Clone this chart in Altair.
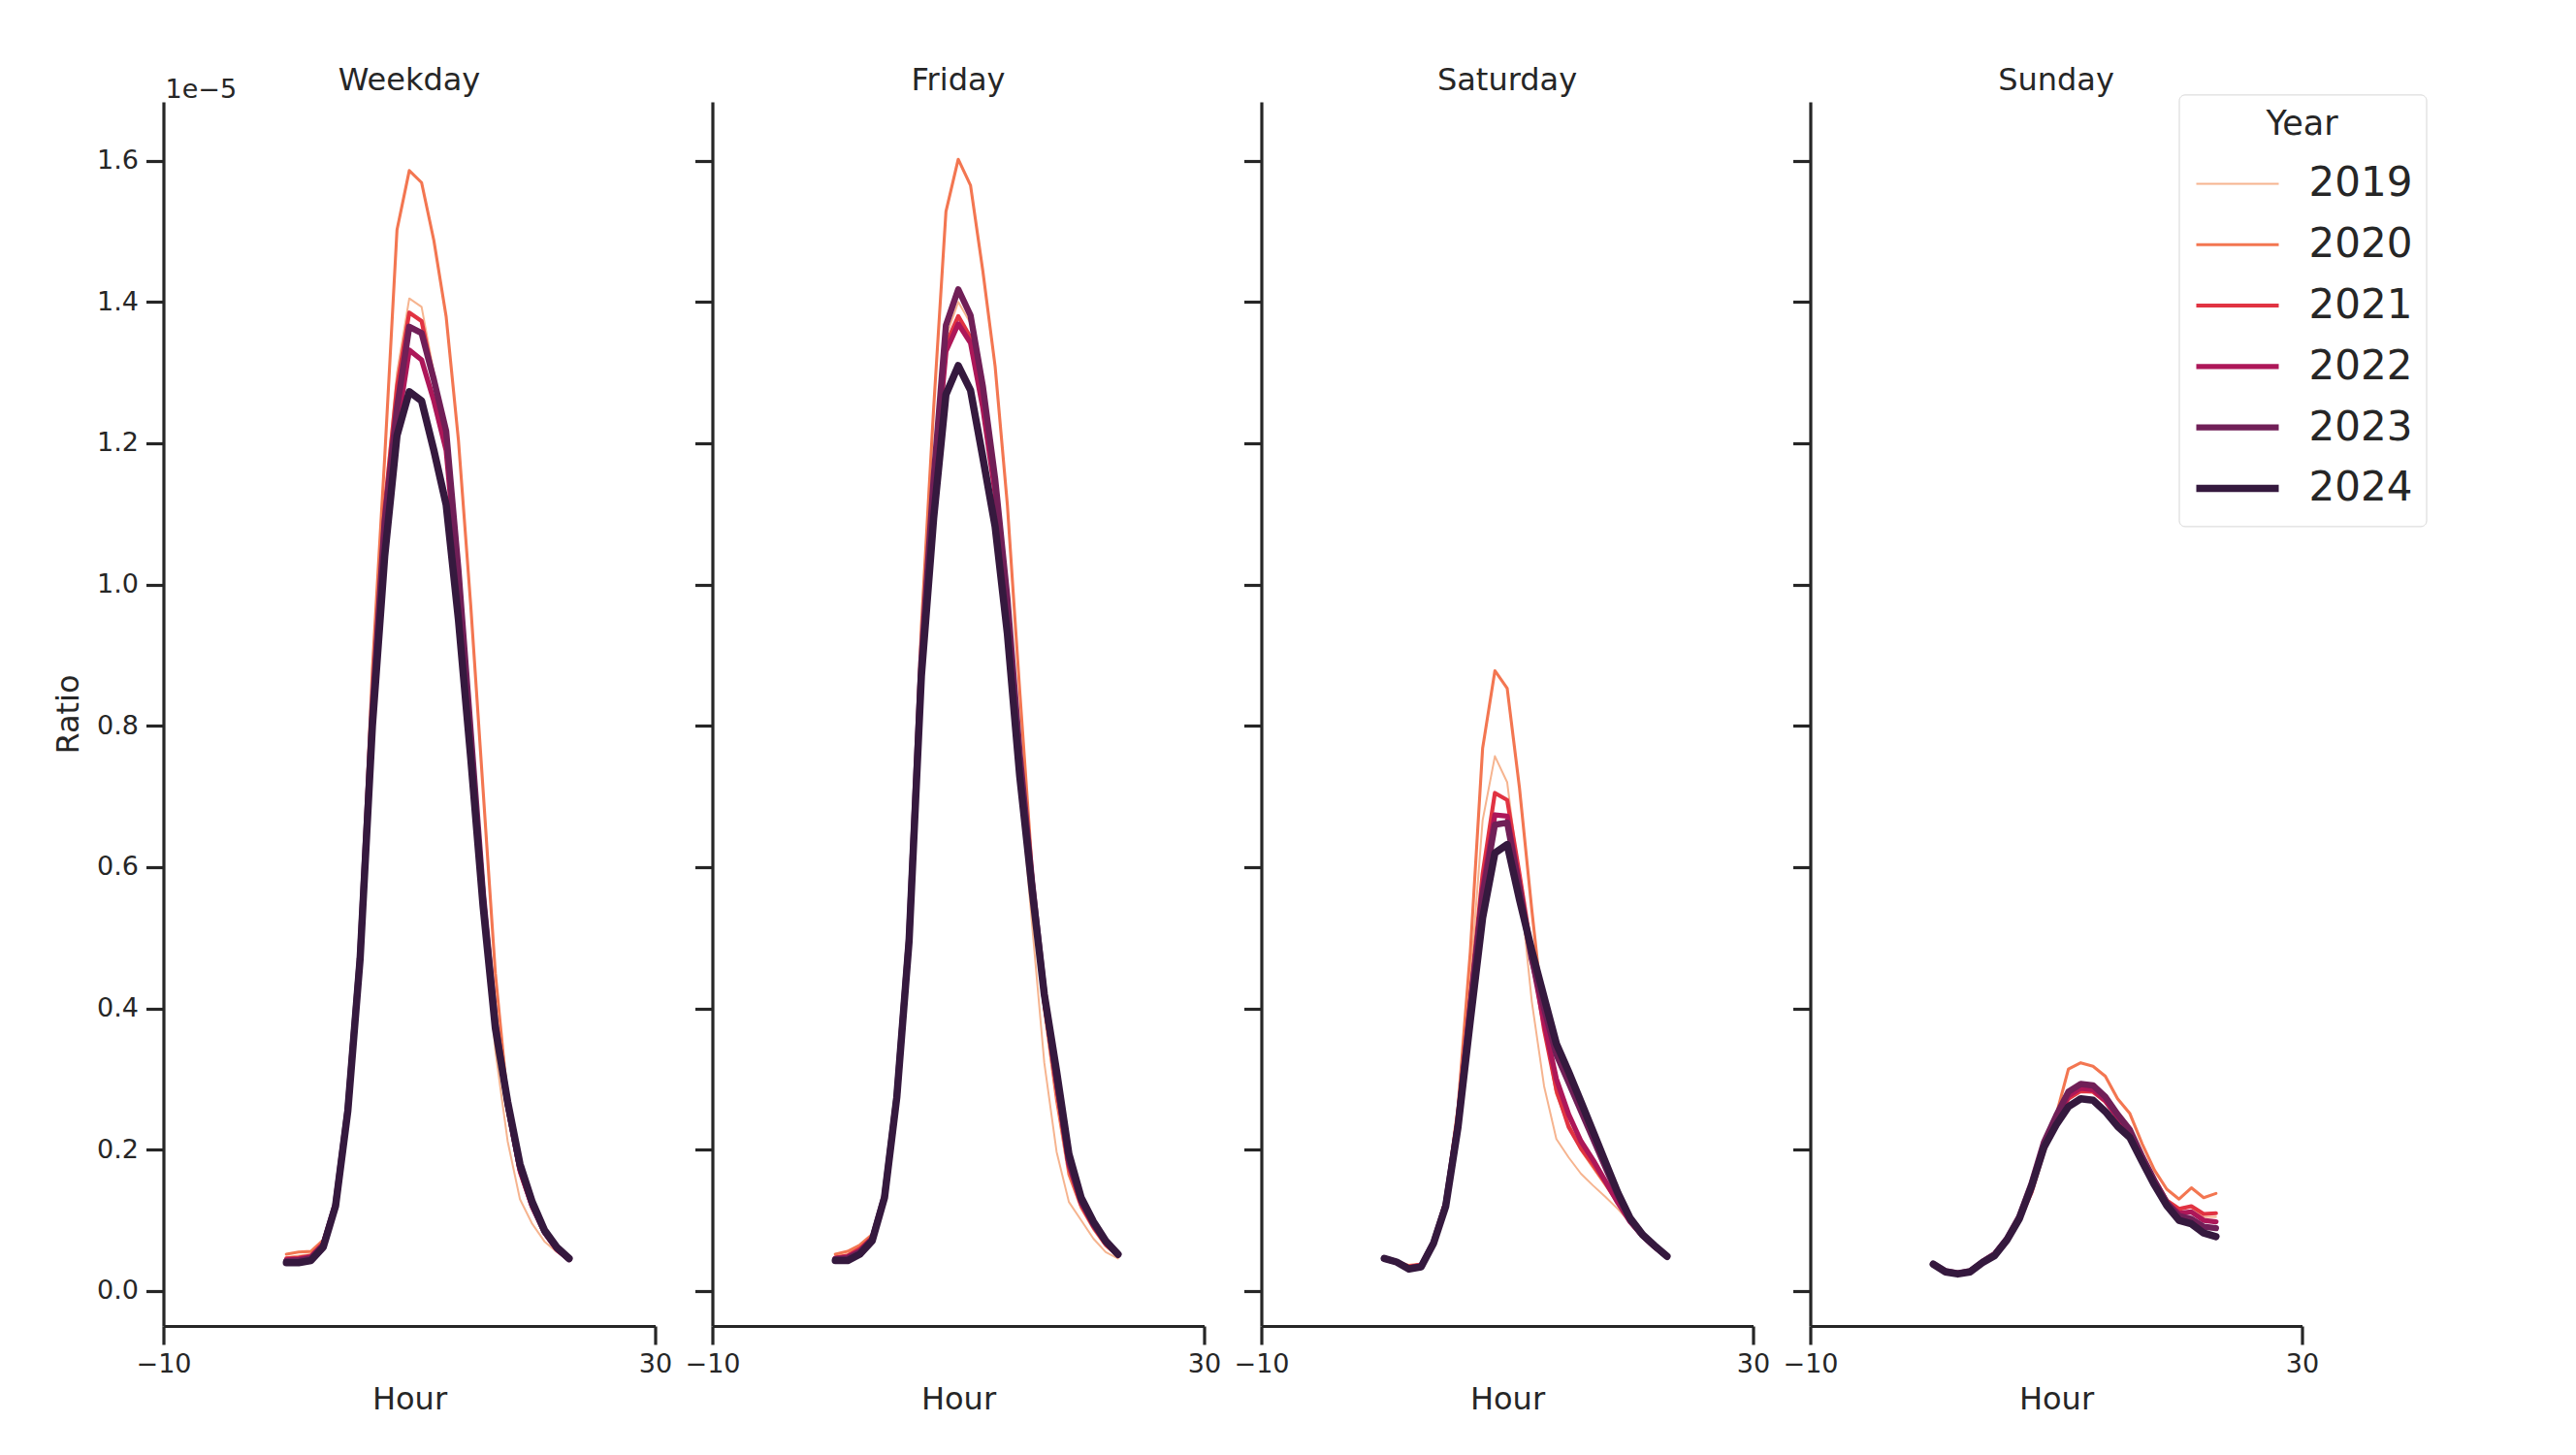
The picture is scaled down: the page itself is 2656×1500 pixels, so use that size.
import altair as alt
import pandas as pd

# ---------------- data (values in units of 1e-5) ----------------
days = ["Weekday", "Friday", "Saturday", "Sunday"]
years = [2019, 2020, 2021, 2022, 2023, 2024]
hours = list(range(24))

weekday_2019 = [0.048,0.050,0.052,0.069,0.124,0.258,0.480,0.840,1.120,1.300,1.405,1.393,1.300,1.220,1.030,0.790,0.540,0.340,0.212,0.130,0.095,0.070,0.055,0.045]
weekday_2020 = [0.052,0.055,0.056,0.072,0.125,0.260,0.490,0.880,1.180,1.502,1.586,1.569,1.487,1.379,1.204,0.970,0.710,0.450,0.270,0.170,0.118,0.082,0.058,0.044]
weekday_2021 = [0.046,0.047,0.050,0.068,0.124,0.258,0.478,0.830,1.110,1.280,1.385,1.373,1.290,1.210,1.020,0.790,0.560,0.375,0.258,0.168,0.118,0.082,0.058,0.044]
weekday_2022 = [0.044,0.045,0.048,0.066,0.123,0.258,0.475,0.815,1.080,1.220,1.332,1.318,1.260,1.190,1.000,0.780,0.555,0.375,0.262,0.172,0.120,0.083,0.059,0.045]
weekday_2023 = [0.042,0.043,0.046,0.064,0.122,0.258,0.475,0.820,1.090,1.250,1.365,1.356,1.290,1.217,1.020,0.790,0.560,0.380,0.265,0.175,0.122,0.084,0.060,0.045]
weekday_2024 = [0.040,0.040,0.043,0.062,0.120,0.255,0.470,0.800,1.040,1.211,1.273,1.260,1.190,1.113,0.950,0.754,0.545,0.372,0.268,0.180,0.126,0.086,0.062,0.046]

friday_2019 = [0.049,0.052,0.062,0.078,0.136,0.278,0.510,0.900,1.170,1.350,1.400,1.370,1.270,1.150,0.960,0.720,0.520,0.323,0.197,0.126,0.100,0.074,0.055,0.046]
friday_2020 = [0.052,0.056,0.065,0.080,0.137,0.280,0.520,0.940,1.250,1.528,1.602,1.565,1.444,1.309,1.112,0.850,0.600,0.400,0.270,0.165,0.118,0.088,0.064,0.049]
friday_2021 = [0.047,0.050,0.060,0.076,0.135,0.277,0.505,0.895,1.160,1.340,1.380,1.350,1.260,1.140,0.975,0.760,0.575,0.410,0.290,0.175,0.122,0.091,0.066,0.050]
friday_2022 = [0.046,0.048,0.057,0.074,0.134,0.276,0.500,0.885,1.140,1.330,1.369,1.342,1.250,1.130,0.965,0.755,0.575,0.415,0.295,0.180,0.125,0.093,0.068,0.051]
friday_2023 = [0.045,0.046,0.055,0.073,0.134,0.276,0.500,0.890,1.150,1.367,1.418,1.381,1.281,1.150,0.980,0.760,0.580,0.420,0.300,0.185,0.128,0.095,0.069,0.051]
friday_2024 = [0.043,0.043,0.052,0.071,0.132,0.274,0.495,0.870,1.094,1.269,1.310,1.275,1.180,1.082,0.930,0.729,0.569,0.420,0.311,0.194,0.132,0.098,0.071,0.052]

saturday_2019 = [0.046,0.041,0.034,0.037,0.070,0.127,0.250,0.440,0.666,0.757,0.720,0.580,0.410,0.290,0.215,0.189,0.166,0.149,0.133,0.116,0.097,0.080,0.064,0.049]
saturday_2020 = [0.046,0.042,0.036,0.038,0.072,0.130,0.260,0.480,0.768,0.878,0.853,0.712,0.540,0.380,0.280,0.235,0.200,0.175,0.150,0.124,0.097,0.078,0.062,0.049]
saturday_2021 = [0.046,0.041,0.034,0.037,0.070,0.126,0.245,0.415,0.590,0.705,0.695,0.590,0.480,0.370,0.285,0.232,0.202,0.179,0.153,0.126,0.098,0.078,0.062,0.049]
saturday_2022 = [0.046,0.041,0.033,0.036,0.069,0.124,0.240,0.405,0.570,0.674,0.672,0.575,0.470,0.380,0.300,0.250,0.212,0.185,0.155,0.125,0.098,0.078,0.062,0.049]
saturday_2023 = [0.046,0.041,0.032,0.035,0.068,0.122,0.238,0.400,0.560,0.660,0.663,0.570,0.470,0.400,0.335,0.295,0.255,0.215,0.175,0.135,0.100,0.079,0.063,0.049]
saturday_2024 = [0.046,0.041,0.031,0.034,0.067,0.120,0.232,0.383,0.528,0.620,0.632,0.554,0.482,0.416,0.350,0.310,0.268,0.225,0.182,0.139,0.103,0.080,0.064,0.049]

sunday_2019 = [0.038,0.028,0.025,0.028,0.042,0.053,0.072,0.100,0.142,0.198,0.242,0.275,0.285,0.283,0.268,0.245,0.222,0.188,0.158,0.130,0.118,0.118,0.105,0.105]
sunday_2020 = [0.038,0.029,0.026,0.029,0.043,0.054,0.073,0.100,0.140,0.195,0.249,0.314,0.323,0.318,0.304,0.272,0.251,0.208,0.171,0.144,0.130,0.146,0.132,0.138]
sunday_2021 = [0.038,0.028,0.025,0.028,0.042,0.053,0.072,0.100,0.140,0.198,0.240,0.272,0.283,0.282,0.268,0.245,0.224,0.190,0.158,0.128,0.116,0.120,0.109,0.110]
sunday_2022 = [0.038,0.028,0.025,0.028,0.041,0.052,0.073,0.103,0.148,0.205,0.245,0.276,0.287,0.285,0.270,0.246,0.224,0.188,0.155,0.124,0.110,0.112,0.100,0.098]
sunday_2023 = [0.038,0.028,0.025,0.028,0.041,0.052,0.074,0.105,0.152,0.210,0.248,0.282,0.293,0.291,0.275,0.250,0.228,0.190,0.156,0.125,0.106,0.102,0.091,0.089]
sunday_2024 = [0.038,0.027,0.024,0.027,0.040,0.050,0.072,0.102,0.148,0.203,0.235,0.261,0.272,0.270,0.254,0.233,0.217,0.183,0.150,0.121,0.100,0.095,0.082,0.077]

series = {
    "Weekday": [weekday_2019, weekday_2020, weekday_2021, weekday_2022, weekday_2023, weekday_2024],
    "Friday": [friday_2019, friday_2020, friday_2021, friday_2022, friday_2023, friday_2024],
    "Saturday": [saturday_2019, saturday_2020, saturday_2021, saturday_2022, saturday_2023, saturday_2024],
    "Sunday": [sunday_2019, sunday_2020, sunday_2021, sunday_2022, sunday_2023, sunday_2024],
}

y_ticks = [0.0, 0.2, 0.4, 0.6, 0.8, 1.0, 1.2, 1.4, 1.6]
x_ticks = [-10, 30]
offset_text = ["1e\u22125"]

colors = ["#f6b48f", "#f37651", "#e13342", "#ad1759", "#701f57", "#35193e"]
widths = [2.0, 3.1, 4.2, 5.3, 6.4, 7.5]

rows = []
for day in days:
    for year, vals in zip(years, series[day]):
        for h, v in zip(hours, vals):
            rows.append({"Day": day, "Year": year, "Hour": h, "Ratio": v})
df = pd.DataFrame(rows)

INK = "#262626"
W, H = 507, 1262

legend = alt.Legend(
    title="Year", orient="none", legendX=2078, legendY=-7.6,
    symbolType="stroke", symbolSize=7225, clipHeight=50, rowPadding=12.8,
    labelFontSize=42, titleFontSize=35, titleFontWeight="normal",
    titleAnchor="middle", titlePadding=18, labelOffset=27, padding=14,
    fillColor="white", strokeColor="#d6d6d6", cornerRadius=6,
    labelColor=INK, titleColor=INK,
)


def panel(i, day):
    y_axis = alt.Axis(
        values=y_ticks, format=".1f", title="Ratio" if i == 0 else None,
        labels=(i == 0), titlePadding=12,
    )
    lines = alt.Chart(df[df.Day == day]).mark_line(
        strokeCap="round", strokeJoin="round"
    ).encode(
        x=alt.X("Hour:Q", scale=alt.Scale(domain=[-10, 30], nice=False, zero=False),
                axis=alt.Axis(values=x_ticks, title="Hour", labelFlush=False)),
        y=alt.Y("Ratio:Q", scale=alt.Scale(domain=[-0.0496, 1.6833], nice=False, zero=False),
                axis=y_axis),
        color=alt.Color("Year:O", scale=alt.Scale(domain=years, range=colors), legend=legend),
        strokeWidth=alt.StrokeWidth("Year:O", scale=alt.Scale(type="ordinal", domain=years, range=widths),
                                    legend=legend),
        order=alt.Order("Hour:Q"),
    )
    layers = [lines]
    if i == 0:
        txt = alt.Chart(pd.DataFrame({"t": offset_text})).mark_text(
            align="left", baseline="alphabetic", fontSize=27, color=INK
        ).encode(text="t:N", x=alt.value(2), y=alt.value(-4))
        layers.append(txt)
    return alt.layer(*layers).properties(
        width=W, height=H,
        title=alt.Title(day, frame="group", fontSize=32, fontWeight="normal",
                        color=INK, offset=(-21 if i == 0 else 5), anchor="middle"),
    )


chart = alt.hconcat(*[panel(i, d) for i, d in enumerate(days)], spacing=59).properties(
    bounds="flush",
    padding={"left": 46.5, "top": 59, "right": 5, "bottom": 5},
).configure(font="DejaVu Sans").configure_view(stroke=None).configure_axis(
    domainColor=INK, domainWidth=3.2, tickColor=INK, tickWidth=3.2, tickSize=18,
    labelColor=INK, labelFontSize=27, labelPadding=8, titleColor=INK,
    titleFontSize=32, titleFontWeight="normal", titlePadding=8, grid=False,
).configure_axisX(tickSize=19, labelPadding=7.5)

chart.save("out.html", embed_options={"renderer": "svg", "actions": False})
